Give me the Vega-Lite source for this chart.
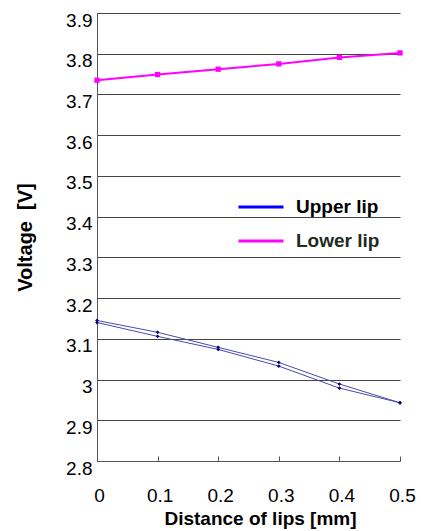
{
  "$schema": "https://vega.github.io/schema/vega-lite/v6.json",
  "autosize": "none",
  "width": 303,
  "height": 448,
  "padding": {"left": 97, "top": 13, "right": 21, "bottom": 70},
  "background": "white",
  "config": {
    "view": {"stroke": null},
    "font": "Liberation Sans"
  },
  "data": {
    "values": [
      {"x": 0.0, "v": 3.735, "series": "L", "lip": "Lower lip"},
      {"x": 0.1, "v": 3.749, "series": "L", "lip": "Lower lip"},
      {"x": 0.2, "v": 3.762, "series": "L", "lip": "Lower lip"},
      {"x": 0.3, "v": 3.775, "series": "L", "lip": "Lower lip"},
      {"x": 0.4, "v": 3.791, "series": "L", "lip": "Lower lip"},
      {"x": 0.5, "v": 3.802, "series": "L", "lip": "Lower lip"},
      {"x": 0.0, "v": 3.145, "series": "U1", "lip": "Upper lip"},
      {"x": 0.1, "v": 3.116, "series": "U1", "lip": "Upper lip"},
      {"x": 0.2, "v": 3.079, "series": "U1", "lip": "Upper lip"},
      {"x": 0.3, "v": 3.042, "series": "U1", "lip": "Upper lip"},
      {"x": 0.4, "v": 2.989, "series": "U1", "lip": "Upper lip"},
      {"x": 0.5, "v": 2.943, "series": "U1", "lip": "Upper lip"},
      {"x": 0.0, "v": 3.140, "series": "U2", "lip": "Upper lip"},
      {"x": 0.1, "v": 3.106, "series": "U2", "lip": "Upper lip"},
      {"x": 0.2, "v": 3.074, "series": "U2", "lip": "Upper lip"},
      {"x": 0.3, "v": 3.033, "series": "U2", "lip": "Upper lip"},
      {"x": 0.4, "v": 2.979, "series": "U2", "lip": "Upper lip"},
      {"x": 0.5, "v": 2.943, "series": "U2", "lip": "Upper lip"}
    ]
  },
  "encoding": {
    "x": {
      "field": "x", "type": "quantitative",
      "scale": {"domain": [0, 0.5], "nice": false, "zero": false},
      "axis": {
        "title": "Distance of lips [mm]",
        "titleFont": "Liberation Sans", "titleFontSize": 19, "titleFontWeight": "bold", "titleColor": "#000",
        "titlePadding": 4,
        "titleX": 163, "titleAlign": "center", "titleAnchor": null,
        "values": [0, 0.1, 0.2, 0.3, 0.4, 0.5],
        "format": "~f",
        "labelFont": "Liberation Sans", "labelFontSize": 19, "labelColor": "#000",
        "labelPadding": 30, "labelFlush": false, "labelOffset": 2,
        "grid": false,
        "domainColor": "#555", "domainWidth": 1,
        "tickColor": "#555", "tickSize": -5, "tickWidth": 1
      }
    },
    "y": {
      "field": "v", "type": "quantitative",
      "scale": {"domain": [2.8, 3.9], "nice": false, "zero": false},
      "axis": {
        "title": "Voltage\u00a0 [V]",
        "titleFont": "Liberation Sans", "titleFontSize": 20, "titleFontWeight": "bold", "titleColor": "#000",
        "titlePadding": 30,
        "values": [2.8, 2.9, 3.0, 3.1, 3.2, 3.3, 3.4, 3.5, 3.6, 3.7, 3.8, 3.9],
        "format": "~f",
        "labelFont": "Liberation Sans", "labelFontSize": 19, "labelColor": "#000",
        "labelPadding": 5, "labelOffset": 7, "labelFlush": false,
        "ticks": false,
        "grid": true, "gridColor": "#444", "gridWidth": 1,
        "domainColor": "#555", "domainWidth": 1
      }
    }
  },
  "layer": [
    {
      "transform": [{"filter": "datum.series != 'L'"}],
      "mark": {"type": "line", "color": "#4a4aae", "strokeWidth": 1},
      "encoding": {"detail": {"field": "series"}}
    },
    {
      "transform": [{"filter": "datum.series != 'L'"}],
      "mark": {"type": "point", "shape": "diamond", "filled": true, "color": "#000080", "size": 14, "opacity": 1}
    },
    {
      "transform": [{"filter": "datum.series == 'L'"}],
      "mark": {"type": "line", "strokeWidth": 2},
      "encoding": {
        "color": {
          "field": "lip", "type": "nominal",
          "scale": {"domain": ["Upper lip", "Lower lip"], "range": ["#0000ff", "#ff00ff"]},
          "legend": {
            "title": null,
            "orient": "none",
            "legendX": 140,
            "legendY": 170,
            "symbolType": "stroke",
            "symbolSize": 2025,
            "symbolStrokeWidth": 3,
            "labelFont": "Liberation Sans",
            "labelFontSize": 19,
            "labelFontWeight": "bold",
            "labelOffset": 11,
            "rowPadding": -8,
            "encode": {
              "labels": {"update": {"fill": {"signal": "datum.label == 'Lower lip' ? '#1e2b1e' : '#000000'"}}}
            }
          }
        }
      }
    },
    {
      "transform": [{"filter": "datum.series == 'L'"}],
      "mark": {"type": "point", "shape": "square", "filled": true, "color": "#ff00ff", "size": 28, "opacity": 1}
    }
  ]
}
